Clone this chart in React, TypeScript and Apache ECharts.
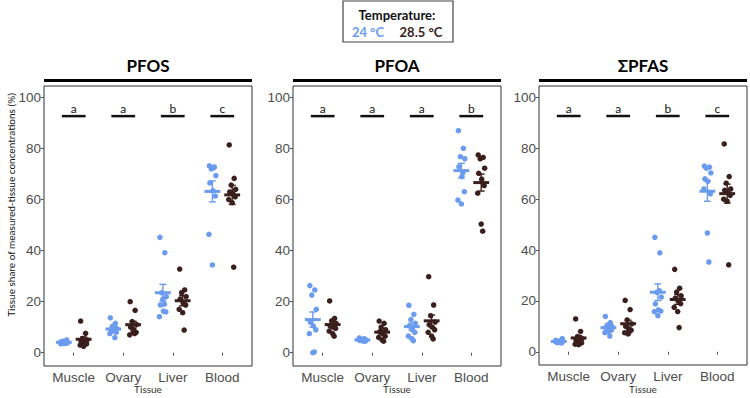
import React, { useEffect, useRef } from "react";
import * as echarts from "echarts";

const CATEGORIES = ["Muscle", "Ovary", "Liver", "Blood"];
const PANEL_TITLES = ["PFOS", "PFOA", "ΣPFAS"];
const Y_TICKS = [0, 20, 40, 60, 80, 100];
const TEMPS = ["24 °C", "28.5 °C"];
const X_TITLE = "Tissue";

const LETTERS_PFOS = ["a", "a", "b", "c"];
const LETTERS_PFOA = ["a", "a", "a", "b"];
const LETTERS_SUM = ["a", "a", "b", "c"];

// values per tissue: Muscle, Ovary, Liver, Blood
const PFOS_24 = [
  [3.5, 4.0, 4.5, 3.8, 4.2, 3.6, 5.0, 4.1, 3.9, 4.3],
  [13.7, 11.5, 10.3, 9.5, 9.0, 8.5, 8.0, 7.5, 9.0, 5.9],
  [45.2, 39.2, 23.5, 22.0, 18.7, 16.3, 16.0, 14.1, 21.0, 19.0],
  [73.2, 72.8, 72.0, 69.4, 66.5, 63.5, 61.4, 46.4, 34.4, 72.5],
];
const PFOS_285 = [
  [12.4, 7.6, 5.6, 5.0, 4.5, 4.0, 3.5, 3.0, 2.5, 4.8],
  [20.0, 16.6, 12.2, 11.0, 10.0, 9.0, 8.0, 7.0, 8.5, 7.5],
  [32.8, 24.6, 23.5, 22.0, 21.0, 19.5, 18.7, 17.0, 15.7, 8.9],
  [81.4, 68.3, 65.7, 64.0, 63.0, 62.5, 61.1, 60.0, 58.8, 33.5],
];
const PFOA_24 = [
  [26.3, 24.6, 22.6, 17.0, 12.0, 10.5, 9.0, 7.5, 0.0, 0.3],
  [5.8, 5.5, 5.2, 5.0, 4.8, 4.6, 4.5, 5.1, 4.9, 4.6],
  [18.6, 15.0, 13.0, 11.5, 10.5, 9.0, 8.0, 6.5, 5.5, 4.7],
  [87.0, 80.1, 76.8, 76.0, 72.9, 69.0, 63.1, 59.8, 58.3, 70.5],
];
const PFOA_285 = [
  [20.3, 13.5, 12.5, 11.5, 10.5, 10.0, 9.5, 8.5, 7.5, 6.5],
  [12.4, 11.5, 10.0, 9.0, 8.2, 7.5, 6.5, 6.0, 5.0, 4.5],
  [29.8, 18.7, 14.5, 12.0, 11.0, 10.0, 9.0, 8.0, 6.5, 5.4],
  [77.5, 76.5, 76.0, 72.3, 70.3, 68.0, 65.5, 62.5, 50.4, 47.6],
];
const SUM_24 = [
  [4.5, 4.0, 3.6, 5.2, 3.8, 4.2, 3.5, 4.1, 3.9, 3.7],
  [13.9, 11.5, 10.5, 10.0, 9.5, 9.0, 8.5, 7.5, 8.0, 6.2],
  [45.0, 38.9, 23.4, 21.5, 18.8, 16.5, 16.0, 15.8, 14.2, 24.0],
  [73.0, 72.6, 72.2, 70.3, 68.0, 67.0, 62.1, 64.0, 46.7, 35.3],
];
const SUM_285 = [
  [12.9, 8.0, 6.0, 5.2, 4.5, 4.0, 3.5, 3.0, 2.8, 4.5],
  [20.2, 16.6, 12.5, 11.0, 10.0, 9.0, 8.5, 7.5, 7.0, 8.0],
  [32.4, 25.0, 23.5, 22.0, 21.0, 20.0, 18.9, 17.5, 15.8, 9.5],
  [81.7, 68.9, 66.3, 64.0, 63.5, 62.5, 61.5, 60.0, 59.2, 34.2],
];

// horizontal jitter (in category units) applied to each point index
const JITTER = [-0.06, 0.04, -0.02, 0.07, -0.05, 0.01, 0.06, -0.07, 0.0, 0.03];

const PANELS = [
  { title: PANEL_TITLES[0], letters: LETTERS_PFOS, a: PFOS_24, b: PFOS_285 },
  { title: PANEL_TITLES[1], letters: LETTERS_PFOA, a: PFOA_24, b: PFOA_285 },
  { title: PANEL_TITLES[2], letters: LETTERS_SUM, a: SUM_24, b: SUM_285 },
];

const BLUE = "#6a9bef";
const DARK = "#3a1f1c";
const DODGE = 0.2;
const LETTER_LEVEL = 92.7;
const GRIDS = [
  { left: 44, top: 86, width: 208, height: 280 },
  { left: 293, top: 86, width: 208, height: 280 },
  { left: 539, top: 86, width: 208, height: 279 },
];

function meanSe(v: number[]) {
  const n = v.length;
  const m = v.reduce((s, x) => s + x, 0) / n;
  const sd = Math.sqrt(v.reduce((s, x) => s + (x - m) * (x - m), 0) / (n - 1));
  return [m, sd / Math.sqrt(n)];
}

export default function App() {
  const ref = useRef<HTMLDivElement>(null);
  useEffect(() => {
    if (!ref.current) return;
    const chart = echarts.init(ref.current, null, { renderer: "svg" });
    const grids: any[] = [];
    const xAxes: any[] = [];
    const yAxes: any[] = [];
    const series: any[] = [];
    const graphics: any[] = [];

    PANELS.forEach((p, pi) => {
      const g = GRIDS[pi];
      grids.push({
        ...g,
        show: true,
        borderColor: "#333",
        borderWidth: 1,
        backgroundColor: "transparent",
        containLabel: false,
        outerBoundsMode: "none",
      });
      xAxes.push({
        gridIndex: pi,
        type: "value",
        min: 0.4,
        max: 4.6,
        axisLine: { show: false },
        splitLine: { show: false },
        axisTick: { show: true, customValues: [1, 2, 3, 4], length: 3, lineStyle: { color: "#555" } },
        axisLabel: {
          customValues: [1, 2, 3, 4],
          formatter: (v: number) => CATEGORIES[Math.round(v) - 1] ?? "",
          fontFamily: "Liberation Sans",
          fontSize: 13.5,
          color: "#4d4d4d",
          margin: 4,
        },
      });
      yAxes.push({
        gridIndex: pi,
        type: "value",
        min: -5.2,
        max: 104.5,
        axisLine: { show: false },
        splitLine: { show: false },
        axisTick: { show: true, customValues: Y_TICKS, length: 3, lineStyle: { color: "#555" } },
        axisLabel: {
          customValues: Y_TICKS,
          fontFamily: "Liberation Sans",
          fontSize: 13.5,
          color: "#4d4d4d",
          margin: 3,
        },
      });

      [p.a, p.b].forEach((grp, gi) => {
        const color = gi === 0 ? BLUE : DARK;
        const off = gi === 0 ? -DODGE : DODGE;
        const pts: number[][] = [];
        const stats: number[][] = [];
        grp.forEach((vals, ci) => {
          vals.forEach((v, k) => pts.push([ci + 1 + off + JITTER[k % JITTER.length], v]));
          const [m, se] = meanSe(vals);
          stats.push([ci + 1 + off, m, m - se, m + se]);
        });
        series.push({
          type: "scatter",
          name: TEMPS[gi],
          xAxisIndex: pi,
          yAxisIndex: pi,
          symbolSize: 5.5,
          itemStyle: { color, opacity: 1 },
          data: pts,
          z: 2,
        });
        series.push({
          type: "custom",
          xAxisIndex: pi,
          yAxisIndex: pi,
          z: 3,
          data: stats,
          renderItem: (params: any, api: any) => {
            const x = api.value(0);
            const m = api.value(1);
            const lo = api.value(2);
            const hi = api.value(3);
            const l = api.coord([x - 0.16, m]);
            const r = api.coord([x + 0.16, m]);
            const t = api.coord([x, hi]);
            const b = api.coord([x, lo]);
            const cap = api.size([0.07, 0])[0];
            return {
              type: "group",
              children: [
                { type: "line", shape: { x1: t[0], y1: t[1], x2: b[0], y2: b[1] }, style: { stroke: color, lineWidth: 1.4 } },
                { type: "line", shape: { x1: t[0] - cap, y1: t[1], x2: t[0] + cap, y2: t[1] }, style: { stroke: color, lineWidth: 1.4 } },
                { type: "line", shape: { x1: b[0] - cap, y1: b[1], x2: b[0] + cap, y2: b[1] }, style: { stroke: color, lineWidth: 1.4 } },
                { type: "line", shape: { x1: l[0], y1: l[1], x2: r[0], y2: r[1] }, style: { stroke: color, lineWidth: 3 } },
              ],
            };
          },
        });
      });

      series.push({
        type: "custom",
        xAxisIndex: pi,
        yAxisIndex: pi,
        z: 4,
        data: p.letters.map((_, i) => [i + 1, LETTER_LEVEL]),
        renderItem: (params: any, api: any) => {
          const x = api.value(0);
          const y = api.value(1);
          const l = api.coord([x - 0.24, y]);
          const r = api.coord([x + 0.24, y]);
          const c = api.coord([x, y]);
          return {
            type: "group",
            children: [
              { type: "line", shape: { x1: l[0], y1: l[1], x2: r[0], y2: r[1] }, style: { stroke: "#111", lineWidth: 2.5 } },
              {
                type: "text",
                x: c[0],
                y: c[1] - 2,
                style: {
                  text: p.letters[params.dataIndex],
                  fill: "#111",
                  font: "12px Lato",
                  align: "center",
                  verticalAlign: "bottom",
                  textAlign: "center",
                  textVerticalAlign: "bottom",
                },
              },
            ],
          };
        },
      });

      graphics.push({
        type: "line",
        shape: { x1: g.left, y1: 80.5, x2: g.left + g.width, y2: 80.5 },
        style: { stroke: "#000", lineWidth: 3 },
      });
      graphics.push({
        type: "text",
        x: g.left + g.width / 2,
        y: 65,
        style: {
          text: p.title,
          font: "bold 17px Lato",
          fill: "#000",
          align: "center",
          verticalAlign: "middle",
          textAlign: "center",
          textVerticalAlign: "middle",
        },
      });
      graphics.push({
        type: "text",
        x: g.left + g.width / 2,
        y: 389,
        style: {
          text: X_TITLE,
          font: "10px Lato",
          fill: "#333",
          align: "center",
          verticalAlign: "middle",
          textAlign: "center",
          textVerticalAlign: "middle",
        },
      });
    });

    graphics.push({
      type: "text",
      x: 11,
      y: 205,
      rotation: Math.PI / 2,
      style: {
        text: "Tissue share of measured-tissue concentrations (%)",
        font: "10px Lato",
        fill: "#111",
        align: "center",
        verticalAlign: "middle",
        textAlign: "center",
        textVerticalAlign: "middle",
      },
    });
    // legend box
    graphics.push({
      type: "rect",
      shape: { x: 343, y: 1, width: 110, height: 41 },
      style: { fill: "#fff", stroke: "#444", lineWidth: 1.2 },
    });
    graphics.push({
      type: "text",
      x: 397,
      y: 15,
      style: { text: "Temperature:", font: "bold 13px Lato", fill: "#111", align: "center", verticalAlign: "middle", textAlign: "center", textVerticalAlign: "middle" },
    });
    graphics.push({
      type: "text",
      x: 368,
      y: 32,
      style: { text: TEMPS[0], font: "bold 13px Lato", fill: BLUE, align: "center", verticalAlign: "middle", textAlign: "center", textVerticalAlign: "middle" },
    });
    graphics.push({
      type: "text",
      x: 421,
      y: 32,
      style: { text: TEMPS[1], font: "bold 13px Lato", fill: DARK, align: "center", verticalAlign: "middle", textAlign: "center", textVerticalAlign: "middle" },
    });

    chart.setOption({
      animation: false,
      backgroundColor: "#fff",
      grid: grids,
      xAxis: xAxes,
      yAxis: yAxes,
      series,
      graphic: graphics,
    });
    return () => chart.dispose();
  }, []);
  return <div ref={ref} style={{ position: "fixed", left: 0, top: 0, width: 750, height: 398 }} />;
}
